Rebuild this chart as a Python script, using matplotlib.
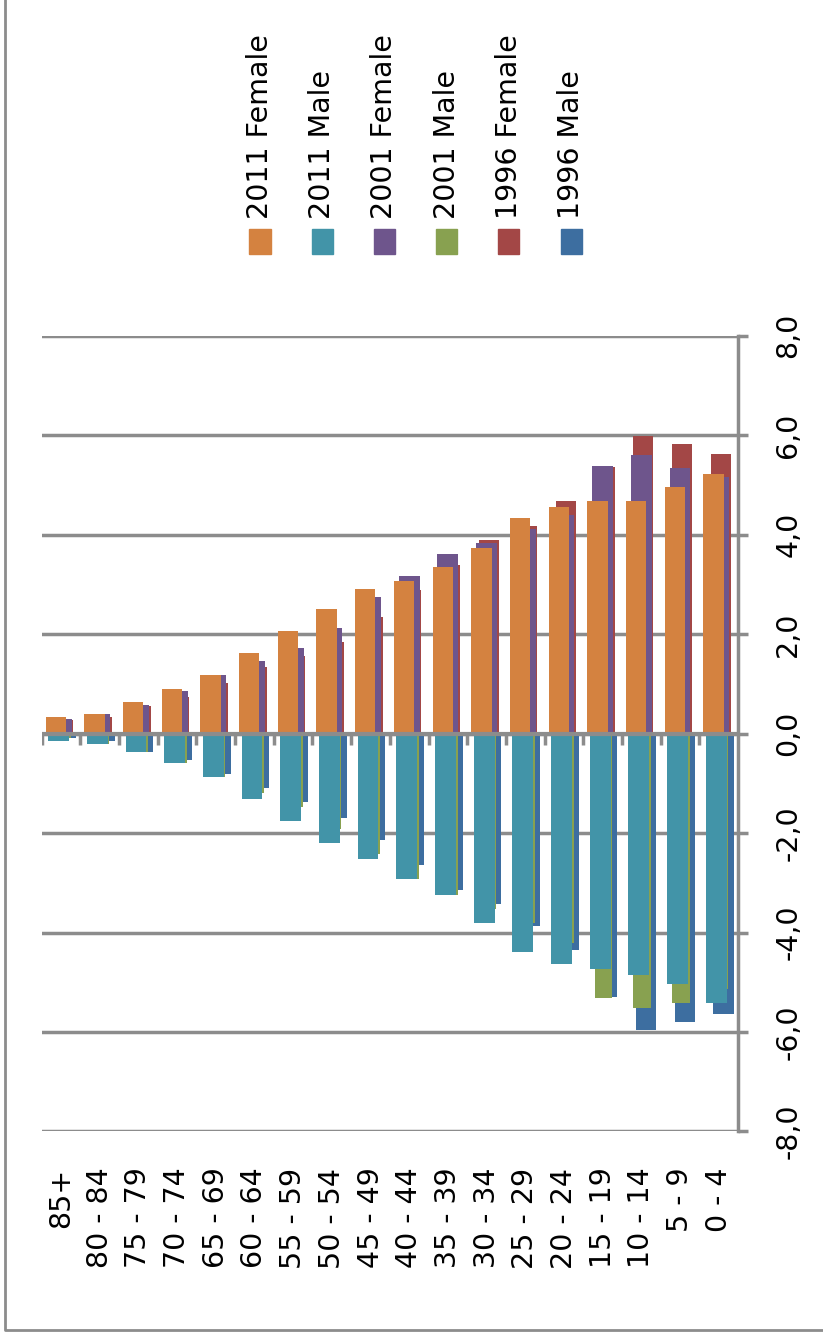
import numpy as np
import matplotlib
matplotlib.use("Agg")
import matplotlib.pyplot as plt
from matplotlib.patches import Rectangle
from matplotlib.lines import Line2D

# age groups, oldest first (left to right)
ages = ['85+', '80 - 84', '75 - 79', '70 - 74', '65 - 69', '60 - 64', '55 - 59',
        '50 - 54', '45 - 49', '40 - 44', '35 - 39', '30 - 34', '25 - 29',
        '20 - 24', '15 - 19', '10 - 14', '5 - 9', '0 - 4']

f2011 = [0.34, 0.40, 0.63, 0.90, 1.18, 1.62, 2.07, 2.51, 2.90, 3.06, 3.35, 3.73,
         4.34, 4.56, 4.68, 4.68, 4.95, 5.23]
m2011 = [-0.15, -0.21, -0.37, -0.59, -0.87, -1.31, -1.75, -2.20, -2.53, -2.92, -3.25, -3.81,
         -4.40, -4.63, -4.74, -4.85, -5.03, -5.41]
f2001 = [0.30, 0.40, 0.57, 0.85, 1.18, 1.46, 1.73, 2.12, 2.74, 3.18, 3.62, 3.84,
         4.12, 4.39, 5.39, 5.61, 5.34, 5.17]
m2001 = [-0.09, -0.20, -0.37, -0.59, -0.87, -1.20, -1.48, -1.92, -2.42, -2.92, -3.25, -3.53,
         -3.80, -4.21, -5.31, -5.52, -5.41, -5.14]
f1996 = [0.28, 0.34, 0.56, 0.74, 1.01, 1.35, 1.57, 1.84, 2.35, 2.89, 3.39, 3.90,
         4.17, 4.68, 5.37, 5.99, 5.83, 5.62]
m1996 = [-0.09, -0.15, -0.37, -0.53, -0.81, -1.09, -1.37, -1.70, -2.14, -2.64, -3.14, -3.42,
         -3.86, -4.36, -5.30, -5.96, -5.79, -5.63]

yticks = [-8, -6, -4, -2, 0, 2, 4, 6, 8]
ytick_labels = ['-8,0', '-6,0', '-4,0', '-2,0', '0,0', '2,0', '4,0', '6,0', '8,0']

c_orange = '#D48240'
c_teal = '#4294A8'
c_purple = '#6E558C'
c_green = '#88A150'
c_red = '#A34746'
c_blue = '#3D6EA0'
c_grid = '#8C8C8C'

plt.rcParams['font.family'] = ['DejaVu Sans']
fs = 20.5

fig = plt.figure(figsize=(8.23, 13.39), dpi=100)
ax = fig.add_axes([0.0507, 0.1550, 0.8460, 0.5942])

x = np.arange(len(ages))
cat = 38.68  # px per category
# (values, colour, offset px, width px, zorder)
series = [
    (f1996, c_red, 11.5, 20.0, 2),
    (m1996, c_blue, 13.9, 20.3, 2),
    (f2001, c_purple, 8.9, 20.9, 3),
    (m2001, c_green, 11.5, 17.5, 3),
    (f2011, c_orange, 4.0, 20.3, 4),
    (m2011, c_teal, 6.5, 20.8, 4),
]
for vals, col, off, w, z in series:
    ax.bar(x - 0.5 + off / cat, vals, width=w / cat, align='edge', color=col,
           edgecolor='none', zorder=z)

ax.set_xlim(-0.5, 17.5)
ax.set_ylim(-8, 8)

# horizontal gridlines
for yv in yticks:
    ax.axhline(yv, color=c_grid, lw=2.5, zorder=1)
# category axis at zero with small ticks below
ax.axhline(0, color=c_grid, lw=3, zorder=5)
ax.vlines(np.arange(18) - 0.5, -0.22, 0, color=c_grid, lw=2.5, zorder=5)

for s in ['top', 'left', 'bottom']:
    ax.spines[s].set_visible(False)
ax.spines['right'].set_color(c_grid)
ax.spines['right'].set_linewidth(2.5)

ax.yaxis.tick_right()
ax.set_yticks(yticks)
ax.set_yticklabels(ytick_labels, rotation=90, va='center', fontsize=fs)
ax.tick_params(axis='y', direction='out', length=7.2, width=2.5, color=c_grid, pad=19)

ax.set_xticks(x)
ax.set_xticklabels(ages, rotation=90, fontsize=fs)
ax.tick_params(axis='x', length=0, pad=26)

# legend: rotated labels above coloured squares
leg_items = [('2011 Female', c_orange), ('2011 Male', c_teal), ('2001 Female', c_purple),
             ('2001 Male', c_green), ('1996 Female', c_red), ('1996 Male', c_blue)]
W, H = 823.0, 1339.0
for k, (lab, col) in enumerate(leg_items):
    cx = 260 + k * 62.2
    fig.patches.append(Rectangle(((cx - 10.5) / W, 1 - 254 / H), 21 / W, 25 / H,
                                 transform=fig.transFigure, color=col))
    fig.text(cx / W, 1 - 219 / H, lab, rotation=90, ha='center', va='bottom', fontsize=fs)

# outer frame (left and bottom visible)
fig.lines.append(Line2D([4.5 / W, 4.5 / W, 1.0], [1.0, 1 - 1330 / H, 1 - 1330 / H],
                        transform=fig.transFigure, color='#8C8C8C', lw=2))

fig.savefig('out.png', dpi=100)
